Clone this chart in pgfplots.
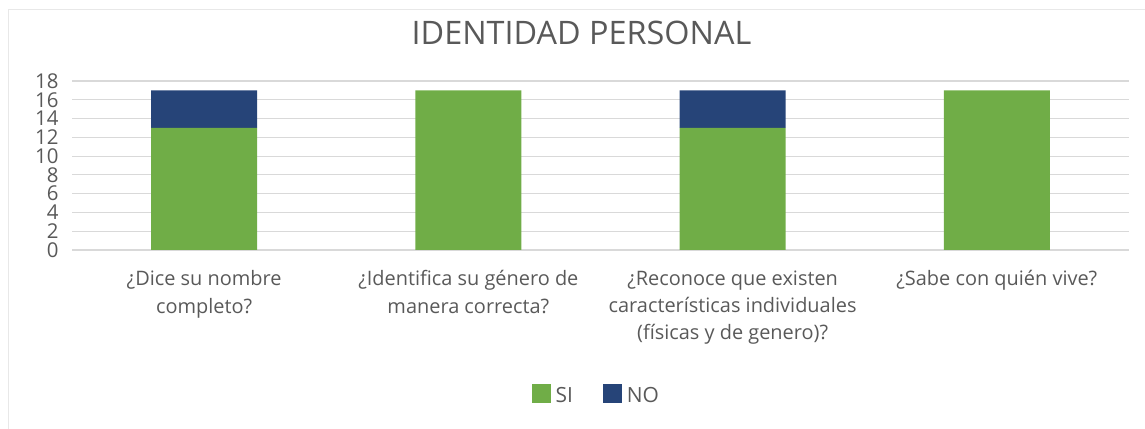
\documentclass[border=0pt]{standalone}
\usepackage{pgfplots}
\pgfplotsset{compat=1.18}
\usepackage{fontspec}
\setmainfont{Open Sans}
\definecolor{siG}{HTML}{70AD47}
\definecolor{noB}{HTML}{264478}
\definecolor{txt}{HTML}{595959}
\definecolor{grd}{HTML}{D9D9D9}
\begin{document}
\begin{tikzpicture}
\useasboundingbox (0,0) rectangle (1145bp,429bp);
\draw[color=black!9, line width=1.5bp] (8.5bp,0) -- (8.5bp,419.5bp) -- (1145bp,419.5bp);
\node[anchor=base, text=txt, font=\fontsize{32.5}{32.5}\selectfont] at (581.5bp,384bp) {IDENTIDAD PERSONAL};
\begin{axis}[
  at={(72bp,179bp)}, anchor=south west,
  scale only axis, width=1057bp, height=169bp,
  ybar stacked, bar width=106bp,
  xmin=-0.5, xmax=3.5, ymin=0, ymax=18,
  xtick={0,1,2,3},
  xticklabels={{¿Dice su nombre\\completo?},{¿Identifica su género de\\manera correcta?},{¿Reconoce que existen\\características individuales\\(físicas y de genero)?},{¿Sabe con quién vive?}},
  xticklabel style={align=center, anchor=north, font=\fontsize{20}{27.5}\selectfont, text=txt, yshift=-17bp},
  ytick={0,2,...,18},
  yticklabel style={font=\fontsize{20.5}{20}\selectfont, text=txt, xshift=-10bp},
  /pgf/number format/assume math mode=true,
  major tick length=0pt,
  ymajorgrids, major grid style={grd, line width=1.2bp},
  axis line style={draw=none},
  legend style={at={(axis description cs:0.496,-0.858)}, anchor=center, draw=none, legend columns=2,
    font=\fontsize{21}{20}\selectfont, text=txt,
    /tikz/every even column/.append style={column sep=28bp},
    /tikz/every odd column/.append style={column sep=3bp}},
  legend image code/.code={\fill[#1] (0bp,-8bp) rectangle (19bp,11bp);},
]
\addplot[fill=siG, draw=none] coordinates {(0,13) (1,17) (2,13) (3,17)};
\addplot[fill=noB, draw=none] coordinates {(0,4) (1,0) (2,4) (3,0)};
\legend{SI,NO}
\end{axis}
\end{tikzpicture}
\end{document}
